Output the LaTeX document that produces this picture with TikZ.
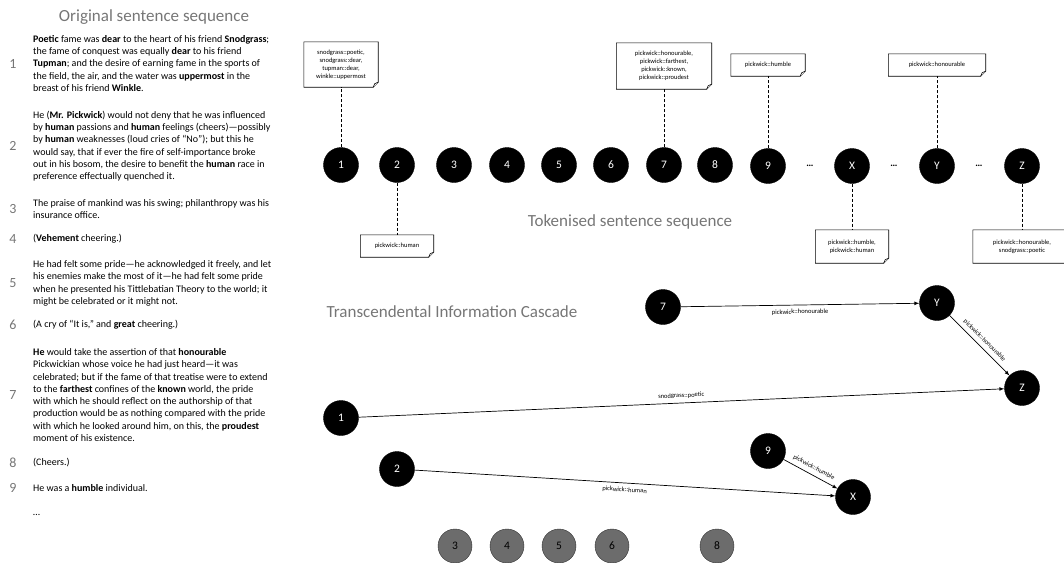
\documentclass[tikz,border=0pt]{standalone}
\usepackage{fontspec}
\setmainfont{Carlito}
\usetikzlibrary{arrows, calc, positioning}
\definecolor{titleGray}{RGB}{118,118,118}
\definecolor{restGray}{RGB}{108,108,108}
\tikzset{
    tokNode/.style={circle, draw, fill=black, text=white, inner sep=0pt, minimum size=35pt, font=\fontsize{11.5}{11.5}\selectfont},
    restNode/.style={circle, draw=black!80, fill=restGray, text=black, inner sep=0pt, minimum size=34pt, font=\fontsize{11.5}{11.5}\selectfont},
    noteBox/.style={align=center, inner sep=2pt, font=\fontsize{6.5}{8}\selectfont},
    noteFrame/.style={line width=0.6pt, black},
    noteLink/.style={dash pattern=on 3pt off 2pt, line width=0.7pt},
    cascEdge/.style={->, >=latex, line width=0.7pt},
    edgeLabel/.style={font=\fontsize{6.5}{8}\selectfont, sloped, midway, inner sep=4pt},
    paraText/.style={anchor=west, align=left, inner sep=0pt, font=\fontsize{10}{12.3}\selectfont},
    paraNum/.style={text=titleGray, font=\fontsize{14}{14}\selectfont},
    headText/.style={text=titleGray, font=\fontsize{17}{18}\selectfont},
}
\newcommand{\drawNote}[5][]{
    \node[noteBox, #1] (#2) at (#3, #4) {#5};
    \draw[noteFrame] (#2.north west) -- (#2.north east) -- ([yshift=5pt]#2.south east)
        -- ([xshift=-5pt]#2.south east) -- (#2.south west) -- cycle;
    \draw[noteFrame, fill=white] ([xshift=-5pt]#2.south east) -- ([xshift=-3.5pt, yshift=3.5pt]#2.south east) -- ([yshift=5pt]#2.south east);
}

\begin{document}
\begin{tikzpicture}[x=1pt, y=1pt]
    \useasboundingbox (0,0) rectangle (1064,-562);

    % left column: the original sentences
    \node[headText] (headOrig) at (154,-17) {Original sentence sequence};

    \node[paraNum] (num1) at (13,-63.5) {1};
    \node[paraText] (p1) at (33,-63.5) {\textbf{Poetic} fame was \textbf{dear} to the heart of his friend \textbf{Snodgrass};\\
        the fame of conquest was equally \textbf{dear} to his friend\\
        \textbf{Tupman}; and the desire of earning fame in the sports of\\
        the field, the air, and the water was \textbf{uppermost} in the\\
        breast of his friend \textbf{Winkle}.};

    \node[paraNum] (num2) at (13,-146) {2};
    \node[paraText] (p2) at (33,-146) {He (\textbf{Mr. Pickwick}) would not deny that he was influenced\\
        by \textbf{human} passions and \textbf{human} feelings (cheers)—possibly\\
        by \textbf{human} weaknesses (loud cries of “No”); but this he\\
        would say, that if ever the fire of self-importance broke\\
        out in his bosom, the desire to benefit the \textbf{human} race in\\
        preference effectually quenched it.};

    \node[paraNum] (num3) at (13,-209) {3};
    \node[paraText] (p3) at (33,-209) {The praise of mankind was his swing; philanthropy was his\\
        insurance office.};

    \node[paraNum] (num4) at (13,-239) {4};
    \node[paraText] (p4) at (33,-239) {(\textbf{Vehement} cheering.)};

    \node[paraNum] (num5) at (13,-283.5) {5};
    \node[paraText] (p5) at (33,-283.5) {He had felt some pride—he acknowledged it freely, and let\\
        his enemies make the most of it—he had felt some pride\\
        when he presented his Tittlebatian Theory to the world; it\\
        might be celebrated or it might not.};

    \node[paraNum] (num6) at (13,-325) {6};
    \node[paraText] (p6) at (33,-325) {(A cry of “It is,” and \textbf{great} cheering.)};

    \node[paraNum] (num7) at (13,-395) {7};
    \node[paraText] (p7) at (33,-395) {\textbf{He} would take the assertion of that \textbf{honourable}\\
        Pickwickian whose voice he had just heard—it was\\
        celebrated; but if the fame of that treatise were to extend\\
        to the \textbf{farthest} confines of the \textbf{known} world, the pride\\
        with which he should reflect on the authorship of that\\
        production would be as nothing compared with the pride\\
        with which he looked around him, on this, the \textbf{proudest}\\
        moment of his existence.};

    \node[paraNum] (num8) at (13,-463) {8};
    \node[paraText] (p8) at (33,-463) {(Cheers.)};

    \node[paraNum] (num9) at (13,-488) {9};
    \node[paraText] (p9) at (33,-488) {He was a \textbf{humble} individual.};

    \node[paraText] (pMore) at (33,-515) {…};

    % tokenised sequence
    \node[tokNode] (t1) at (341,-165) {1};
    \node[tokNode] (t2) at (397,-165) {2};
    \node[tokNode] (t3) at (454,-165) {3};
    \node[tokNode] (t4) at (507,-165) {4};
    \node[tokNode] (t5) at (559,-165) {5};
    \node[tokNode] (t6) at (611,-165) {6};
    \node[tokNode] (t7) at (664,-165) {7};
    \node[tokNode] (t8) at (715,-165) {8};
    \node[tokNode] (t9) at (768,-166) {9};
    \node (gap1) at (810,-166) {\textbf{…}};
    \node[tokNode] (tX) at (852,-166) {X};
    \node (gap2) at (894,-166) {\textbf{…}};
    \node[tokNode] (tY) at (937,-166) {Y};
    \node (gap3) at (979,-166) {\textbf{…}};
    \node[tokNode] (tZ) at (1022,-166) {Z};

    \node[headText] (headTok) at (630,-222) {Tokenised sentence sequence};

    \drawNote[minimum width=74pt, minimum height=45pt]{n1}{341}{-64.5}{snodgrass::poetic,\\ snodgrass::dear,\\ tupman::dear,\\ winkle::uppermost}
    \drawNote[minimum width=95pt, minimum height=46pt]{n7}{664}{-66}{pickwick::honourable,\\ pickwick::farthest,\\ pickwick::known,\\ pickwick::proudest}
    \drawNote[minimum width=74pt, minimum height=22pt]{n9}{768}{-65}{pickwick::humble}
    \drawNote[minimum width=97pt, minimum height=22pt]{nY}{937}{-65}{pickwick::honourable}
    \drawNote[minimum width=73pt, minimum height=22pt]{n2}{397}{-246}{pickwick::human}
    \drawNote[minimum width=73pt, minimum height=33pt]{nX}{852}{-246.5}{pickwick::humble,\\ pickwick::human}
    \drawNote[minimum width=98pt, minimum height=33pt]{nZ}{1022}{-246.5}{pickwick::honourable,\\ snodgrass::poetic}

    \draw[noteLink] (t1) -- (n1);
    \draw[noteLink] (t7) -- (n7);
    \draw[noteLink] (t9) -- (n9);
    \draw[noteLink] (tY) -- (nY);
    \draw[noteLink] (t2) -- (n2);
    \draw[noteLink] (tX) -- (nX);
    \draw[noteLink] (tZ) -- (nZ);

    % cascade
    \node[headText] (headCasc) at (452,-312) {Transcendental Information Cascade};

    \node[tokNode] (c7) at (663,-307) {7};
    \node[tokNode] (cY) at (937,-303) {Y};
    \node[tokNode] (cZ) at (1022,-388) {Z};
    \node[tokNode] (c1) at (341,-418) {1};
    \node[tokNode] (c2) at (397,-469) {2};
    \node[tokNode] (c9) at (768,-451) {9};
    \node[tokNode] (cX) at (853,-497) {X};

    \draw[cascEdge] (c7) -- node[edgeLabel, below] {pickwick::honourable} (cY);
    \draw[cascEdge] (cY) -- node[edgeLabel, above] {pickwick::honourable} (cZ);
    \draw[cascEdge] (c1) -- node[edgeLabel, above] {snodgrass::poetic} (cZ);
    \draw[cascEdge] (c2) -- node[edgeLabel, below] {pickwick::human} (cX);
    \draw[cascEdge] (c9) -- node[edgeLabel, above] {pickwick::humble} (cX);

    \node[restNode] (g3) at (455,-546) {3};
    \node[restNode] (g4) at (507,-546) {4};
    \node[restNode] (g5) at (559,-546) {5};
    \node[restNode] (g6) at (612,-546) {6};
    \node[restNode] (g8) at (717,-546) {8};

\end{tikzpicture}
\end{document}
